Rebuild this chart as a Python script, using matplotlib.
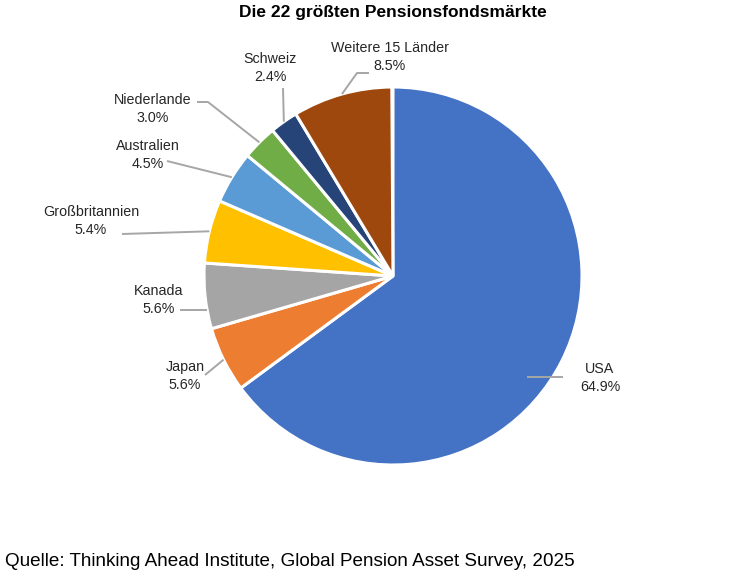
import matplotlib
matplotlib.use("Agg")
import matplotlib.pyplot as plt
import numpy as np

categories = ["USA", "Japan", "Kanada", "Großbritannien", "Australien",
              "Niederlande", "Schweiz", "Weitere 15 Länder"]
shares = [64.9, 5.6, 5.6, 5.4, 4.5, 3.0, 2.4, 8.5]
colors = ["#4472C4", "#ED7D31", "#A5A5A5", "#FFC000", "#5B9BD5",
          "#70AD47", "#264478", "#9E480E"]
title = "Die 22 größten Pensionsfondsmärkte"
source = "Quelle: Thinking Ahead Institute, Global Pension Asset Survey, 2025"

plt.rcParams['font.family'] = ['Liberation Sans Narrow', 'Liberation Sans', 'DejaVu Sans']

W, H = 748, 578
fig = plt.figure(figsize=(W / 100, H / 100), dpi=100)
ax = fig.add_axes([0, 0, 1, 1])

cx, cy, R = 393, H - 276, 189

def Y(y):
    return H - y

fractions = [s / 100 for s in shares]
wedges, _ = ax.pie(fractions, colors=colors, startangle=90, counterclock=False,
                   center=(cx, cy), radius=R, normalize=False,
                   wedgeprops=dict(edgecolor='white', linewidth=2.2))
ax.set_xlim(0, W)
ax.set_ylim(0, H)
ax.set_aspect('equal')
ax.axis('off')

# label layout (pixel coords, y downward): text centre, leader end near text, optional elbow, anchor mode
layout = {
    "USA":               dict(t=(600, 378), end=(563, 377), elbow=None, mode='horiz', inset=26),
    "Japan":             dict(t=(185, 376), end=(205, 375), elbow=None, mode='mid'),
    "Kanada":            dict(t=(159, 300), end=(180, 310), elbow=None, mode='horiz', inset=0),
    "Großbritannien":    dict(t=(91, 221), end=(122, 234), elbow=None, mode='mid'),
    "Australien":        dict(t=(148, 155), end=(167, 161), elbow=None, mode='mid'),
    "Niederlande":       dict(t=(153, 109), end=(197, 102), elbow=(208, 102), mode='mid'),
    "Schweiz":           dict(t=(270, 68), end=(283, 88), elbow=None, mode='mid'),
    "Weitere 15 Länder": dict(t=(390, 57), end=(369, 73), elbow=(357, 73), mode='mid'),
}

lead_col = "#A6A6A6"
for w, cat, val in zip(wedges, categories, shares):
    L = layout[cat]
    mid = np.deg2rad((w.theta1 + w.theta2) / 2)
    ex, ey = L['end'][0], Y(L['end'][1])
    if L['mode'] == 'mid':
        ax_, ay_ = cx + R * np.cos(mid), cy + R * np.sin(mid)
    else:
        dy = ey - cy
        dx = np.sqrt(R ** 2 - dy ** 2)
        side = np.sign(np.cos(mid))
        ax_, ay_ = cx + side * (dx - L['inset']), ey
    xs = [ax_]
    ys = [ay_]
    if L['elbow'] is not None:
        xs.append(L['elbow'][0]); ys.append(Y(L['elbow'][1]))
    xs.append(ex); ys.append(ey)
    ax.plot(xs, ys, color=lead_col, lw=1.4, solid_capstyle='butt', zorder=3)
    ax.text(L['t'][0], Y(L['t'][1]), f"{cat}\n{val:.1f}%", ha='center', va='center',
            fontsize=10.3, color='#262626', linespacing=1.4, zorder=4)

ax.text(393, Y(13), title, ha='center', va='center', fontsize=12.5,
        fontweight='bold', color='black')
ax.text(5, Y(561), source, ha='left', va='center', fontsize=13.6, color='black')

fig.savefig("out.png", dpi=100)
